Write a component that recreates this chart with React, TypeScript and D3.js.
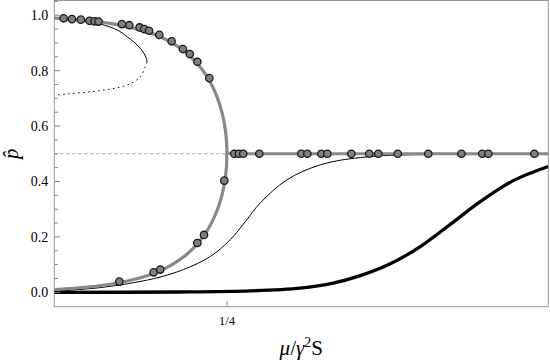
import React from "react";
import * as d3 from "d3";

// ---- data ----
// x = mu / (gamma^2 S), log axis; p = equilibrium frequency p-hat
const grayUpperX = [0.01, 0.0196, 0.0291, 0.0384, 0.0564, 0.0736, 0.09, 0.1131, 0.1344, 0.16, 0.1824, 0.2016, 0.2176, 0.2304, 0.24, 0.2464, 0.2496, 0.25];
const grayUpperP = [0.9899, 0.98, 0.97, 0.96, 0.94, 0.92, 0.9, 0.87, 0.84, 0.8, 0.76, 0.72, 0.68, 0.64, 0.6, 0.56, 0.52, 0.5];
const grayLowerX = [0.01, 0.0196, 0.0291, 0.0384, 0.0564, 0.0736, 0.09, 0.1131, 0.1344, 0.16, 0.1824, 0.2016, 0.2176, 0.2304, 0.24, 0.2464, 0.2496, 0.25, 0.3, 1, 10, 100];
const grayLowerP = [0.0101, 0.02, 0.03, 0.04, 0.06, 0.08, 0.1, 0.13, 0.16, 0.2, 0.24, 0.28, 0.32, 0.36, 0.4, 0.44, 0.48, 0.5, 0.5, 0.5, 0.5, 0.5];

const thinUpperX = [0.01, 0.0173, 0.0236, 0.0322, 0.0388, 0.0497, 0.0556, 0.0563];
const thinUpperP = [0.992, 0.977, 0.968, 0.947, 0.923, 0.881, 0.845, 0.831];
const thinDotX = [0.0563, 0.0546, 0.0497, 0.0388, 0.0236, 0.0127, 0.01];
const thinDotP = [0.831, 0.814, 0.778, 0.748, 0.728, 0.716, 0.711];

const thinLowerX = [0.01, 0.0236, 0.0634, 0.111, 0.183, 0.266, 0.352, 0.466, 0.766, 1.426, 3.42, 16.07, 100];
const thinLowerP = [0.004, 0.017, 0.049, 0.082, 0.129, 0.19, 0.255, 0.323, 0.406, 0.46, 0.489, 0.498, 0.5];

const thickX = [0.01, 0.1, 0.386, 0.982, 1.816, 3.0, 5.26, 9.2, 16.4, 28.1, 52.1, 100];
const thickP = [0.0, 0.001, 0.005, 0.015, 0.033, 0.06, 0.103, 0.165, 0.248, 0.327, 0.403, 0.454];

const simX = [0.0119, 0.0139, 0.0164, 0.0193, 0.0212, 0.0228, 0.0353, 0.0405, 0.0491, 0.0535, 0.0585, 0.0708, 0.0891, 0.110, 0.125, 0.144, 0.180,
  0.0336, 0.0637, 0.0721, 0.144, 0.163, 0.238,
  0.2867, 0.312, 0.339, 0.457, 1.0, 1.119, 1.452, 1.624, 2.54, 3.55, 4.2, 6.04, 10.67, 19.8, 29.2, 32.7, 77.1];
const simP = [0.989, 0.986, 0.984, 0.98, 0.978, 0.977, 0.968, 0.964, 0.956, 0.95, 0.944, 0.929, 0.906, 0.878, 0.86, 0.832, 0.773,
  0.0386, 0.072, 0.082, 0.178, 0.207, 0.403,
  0.5, 0.5, 0.5, 0.5, 0.5, 0.5, 0.5, 0.5, 0.5, 0.5, 0.5, 0.5, 0.5, 0.5, 0.5, 0.5, 0.5];

const yTicks = [0, 0.2, 0.4, 0.6, 0.8, 1.0];
const yTickLabels = ["0.0", "0.2", "0.4", "0.6", "0.8", "1.0"];
const yMinor = [0.05, 0.1, 0.15, 0.25, 0.3, 0.35, 0.45, 0.5, 0.55, 0.65, 0.7, 0.75, 0.85, 0.9, 0.95, 1.05];
const xTicks = [0.25];
const xTickLabels = ["1/4"];
const midLineP = 0.5;
const midLineXEnd = 0.25;

const W = 550, H = 361;
const L = 54.3, R = 548.3, T = 0, B = 306.7;
const FONT = "Liberation Serif";

export default function App() {
  const x = d3.scaleLog().domain([0.01, 100]).range([L, R]);
  const y = d3.scaleLinear().domain([-0.052, 1.055]).range([B, T]);

  const mk = (xs: number[], ps: number[]) => xs.map((v, i) => [x(v), y(ps[i])] as [number, number]);
  const line = d3.line().curve(d3.curveCatmullRom.alpha(0.5));

  return (
    <svg width={W} height={H} style={{ position: "absolute", left: 0, top: 0, background: "#fff" }}>
      <defs>
        <clipPath id="plot"><rect x={L} y={T} width={R - L} height={B - T} /></clipPath>
      </defs>
      {/* frame */}
      <rect x={L} y={T + 0.5} width={R - L} height={B - T - 0.5} fill="none" stroke="#999" strokeWidth={1} />
      <g clipPath="url(#plot)">
        <line x1={x(0.01)} x2={x(midLineXEnd)} y1={y(midLineP)} y2={y(midLineP)} stroke="#888" strokeWidth={0.8} strokeDasharray="3,3" />
        <path d={line(mk(thickX, thickP)) || ""} fill="none" stroke="#000" strokeWidth={3.3} />
        <path d={line(mk(thinLowerX, thinLowerP)) || ""} fill="none" stroke="#000" strokeWidth={1} />
        <path d={line(mk(thinUpperX, thinUpperP)) || ""} fill="none" stroke="#000" strokeWidth={1} />
        <path d={line(mk(thinDotX, thinDotP)) || ""} fill="none" stroke="#000" strokeWidth={1} strokeDasharray="1.5,3.5" />
        <path d={line(mk(grayUpperX, grayUpperP)) || ""} fill="none" stroke="#888" strokeWidth={3.2} />
        <path d={line(mk(grayLowerX, grayLowerP)) || ""} fill="none" stroke="#888" strokeWidth={3.2} />
        {simX.map((v, i) => (
          <circle key={i} cx={x(v)} cy={y(simP[i])} r={3.7} fill="#808080" stroke="#1a1a1a" strokeWidth={1.3} />
        ))}
      </g>
      {/* y ticks */}
      {yTicks.map((t, i) => (
        <g key={"y" + i}>
          <line x1={L} x2={L + 6} y1={y(t)} y2={y(t)} stroke="#888" strokeWidth={1} />
          <text x={L - 6} y={y(t)} dy="0.35em" textAnchor="end" style={{ fontFamily: FONT }} fontSize={14} fill="#000">{yTickLabels[i]}</text>
        </g>
      ))}
      {yMinor.map((t, i) => (
        <line key={"ym" + i} x1={L} x2={L + 3.8} y1={y(t)} y2={y(t)} stroke="#888" strokeWidth={1} />
      ))}
      {/* x ticks */}
      {xTicks.map((t, i) => (
        <g key={"x" + i}>
          <line x1={x(t)} x2={x(t)} y1={B} y2={B - 6} stroke="#888" strokeWidth={1} />
          <text x={x(t)} y={B + 18} textAnchor="middle" style={{ fontFamily: FONT }} fontSize={13} fill="#000">{xTickLabels[i]}</text>
        </g>
      ))}
      {/* axis titles */}
      <text x={(L + R) / 2} y={355} textAnchor="middle" style={{ fontFamily: FONT }} fontSize={21} fill="#000">
        <tspan fontStyle="italic">μ</tspan>
        <tspan>/</tspan>
        <tspan fontStyle="italic">γ</tspan>
        <tspan fontSize={14} dy={-8}>2</tspan>
        <tspan dy={8}>S</tspan>
      </text>
      <text transform={`translate(18, ${y(0.5)}) rotate(-90)`} textAnchor="middle" style={{ fontFamily: FONT }} fontSize={21} fontStyle="italic" fill="#000">
        {"p\u0302"}
      </text>
    </svg>
  );
}
